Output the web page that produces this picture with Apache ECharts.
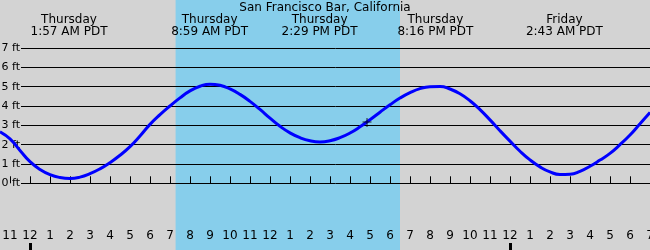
<!DOCTYPE html>
<html>
<head>
<meta charset="utf-8">
<script src="https://cdn.jsdelivr.net/npm/echarts@6/dist/echarts.min.js"></script>
<style>
html,body{margin:0;padding:0;background:#d3d3d3;}
#c{width:650px;height:250px;}
</style>
</head>
<body>
<div id="c"></div>
<script>
// ---- data (hours from Thursday 00:00 PDT, tide height in ft) ----
var titleText = 'San Francisco Bar, California';
var tideHours   = [-1.5, -1, -0.5, 0, 0.5, 1, 1.5, 2, 2.5, 3, 3.5, 4, 4.5, 5, 5.5, 6, 6.5, 7, 7.5, 8, 8.5, 9,
                   9.5, 10, 10.5, 11, 11.5, 12, 12.5, 13, 13.5, 14, 14.5, 15, 15.5, 16, 16.5, 17, 17.5, 18, 18.5, 19, 19.5, 20, 20.5,
                   21, 21.5, 22, 22.5, 23, 23.5, 24, 24.5, 25, 25.5, 26, 26.5, 27, 27.5, 28, 28.5, 29, 29.5, 30, 30.5, 31];
var tideHeights = [2.67, 2.3, 1.7, 1.12, 0.72, 0.45, 0.3, 0.25, 0.32, 0.5, 0.75, 1.07, 1.45, 1.9, 2.45, 3.05, 3.55, 4.0, 4.42, 4.78, 5.02, 5.13,
                   5.07, 4.88, 4.6, 4.24, 3.82, 3.37, 2.95, 2.61, 2.36, 2.2, 2.14, 2.2, 2.36, 2.6, 2.92, 3.29, 3.68, 4.06, 4.41, 4.69, 4.9, 5.0, 5.01,
                   4.88, 4.63, 4.27, 3.81, 3.28, 2.72, 2.18, 1.66, 1.21, 0.85, 0.59, 0.46, 0.47, 0.62, 0.88, 1.2, 1.55, 2.0, 2.5, 3.08, 3.67];
var extremeHours  = [1.95, 8.98, 14.48, 20.27, 26.72];
var extremeDays   = ['Thursday', 'Thursday', 'Thursday', 'Thursday', 'Friday'];
var extremeTimes  = ['1:57 AM PDT', '8:59 AM PDT', '2:29 PM PDT', '8:16 PM PDT', '2:43 AM PDT'];
var daylight = [7.28, 18.5];
var nowPoint = [16.85, 3.15];
var tickHours  = [-1, 0, 1, 2, 3, 4, 5, 6, 7, 8, 9, 10, 11, 12, 13, 14, 15, 16, 17, 18, 19, 20, 21, 22, 23, 24, 25, 26, 27, 28, 29, 30, 31];
var tickLabels = ['11','12','1','2','3','4','5','6','7','8','9','10','11','12','1','2','3','4','5','6','7','8','9','10','11','12','1','2','3','4','5','6','7'];
var midnightHours = [0, 24];

var FONT = 'DejaVu Sans';
var chart = echarts.init(document.getElementById('c'), null, {renderer: 'canvas'});
var xMin = -1.5, xMax = 31;

function lookup(keys, vals, v) {
  for (var i = 0; i < keys.length; i++) if (Math.abs(keys[i] - v) < 1e-6) return vals[i];
  return '';
}

var option = {
  backgroundColor: '#d3d3d3',
  animation: false,
  title: {
    text: titleText, left: 'center', top: 1, padding: 0,
    textStyle: {fontFamily: FONT, fontSize: 12, fontWeight: 'normal', color: '#000', lineHeight: 13}
  },
  grid: [
    {left: 0, right: 0, top: 0, bottom: 0, containLabel: false, outerBoundsMode: 'none'},
    {left: 21, right: 0, top: 48, bottom: 66.7, containLabel: false, outerBoundsMode: 'none'}
  ],
  xAxis: [
    { // bottom hour labels & thin ticks
      type: 'value', gridIndex: 0, min: xMin, max: xMax, position: 'bottom', z: 3,
      axisLine: {show: false},
      splitLine: {show: false},
      axisTick: {show: true, inside: true, length: 7, customValues: tickHours, lineStyle: {color: '#000', width: 1}},
      axisLabel: {show: true, inside: true, margin: 8, customValues: tickHours, hideOverlap: false,
        showMinLabel: true, showMaxLabel: true,
        fontFamily: FONT, fontSize: 12, color: '#000',
        formatter: function (v) { return lookup(tickHours, tickLabels, v); }}
    },
    { // thick midnight ticks
      type: 'value', gridIndex: 0, min: xMin, max: xMax, position: 'bottom', z: 3,
      axisLine: {show: false}, splitLine: {show: false}, axisLabel: {show: false},
      axisTick: {show: true, inside: true, length: 7, customValues: midnightHours, lineStyle: {color: '#000', width: 3}}
    },
    { // top extreme labels
      type: 'value', gridIndex: 0, min: xMin, max: xMax, position: 'top', z: 3,
      axisLine: {show: false}, splitLine: {show: false}, axisTick: {show: false},
      axisLabel: {show: true, inside: true, margin: 14, customValues: extremeHours,
        fontFamily: FONT, fontSize: 12, color: '#000', lineHeight: 12, align: 'center',
        formatter: function (v) {
          return lookup(extremeHours, extremeDays, v) + '\n' + lookup(extremeHours, extremeTimes, v);
        }}
    },
    {type: 'value', gridIndex: 1, min: 0, max: 1, show: false}
  ],
  yAxis: [
    {type: 'value', gridIndex: 0, min: -3.45, max: 9.483, show: false},
    {type: 'value', gridIndex: 1, min: 0, max: 7, interval: 1, z: 2,
      axisLine: {show: false}, axisTick: {show: false},
      splitLine: {show: true, lineStyle: {color: '#000', width: 1}},
      axisLabel: {show: true, margin: 1, fontFamily: FONT, fontSize: 11, color: '#000',
        formatter: '{value} ft'}}
  ],
  series: [
    {
      type: 'line', xAxisIndex: 0, yAxisIndex: 0, data: [], z: 1, silent: true,
      markArea: {silent: true, itemStyle: {color: '#87ceeb', opacity: 1},
        data: [[{xAxis: daylight[0]}, {xAxis: daylight[1]}]]}
    },
    {
      type: 'line', xAxisIndex: 0, yAxisIndex: 0, z: 5, smooth: 0.5,
      showSymbol: false, clip: false,
      lineStyle: {color: '#0000ff', width: 3},
      data: tideHours.map(function (h, i) { return [h, tideHeights[i]]; })
    },
    {
      type: 'scatter', xAxisIndex: 0, yAxisIndex: 0, z: 6,
      symbol: 'path://M0,3.5H9V4.5H0Z M4,0H5V9H4Z', symbolSize: 9,
      itemStyle: {color: '#000'},
      data: [nowPoint]
    }
  ]
};
chart.setOption(option);
</script>
</body>
</html>
